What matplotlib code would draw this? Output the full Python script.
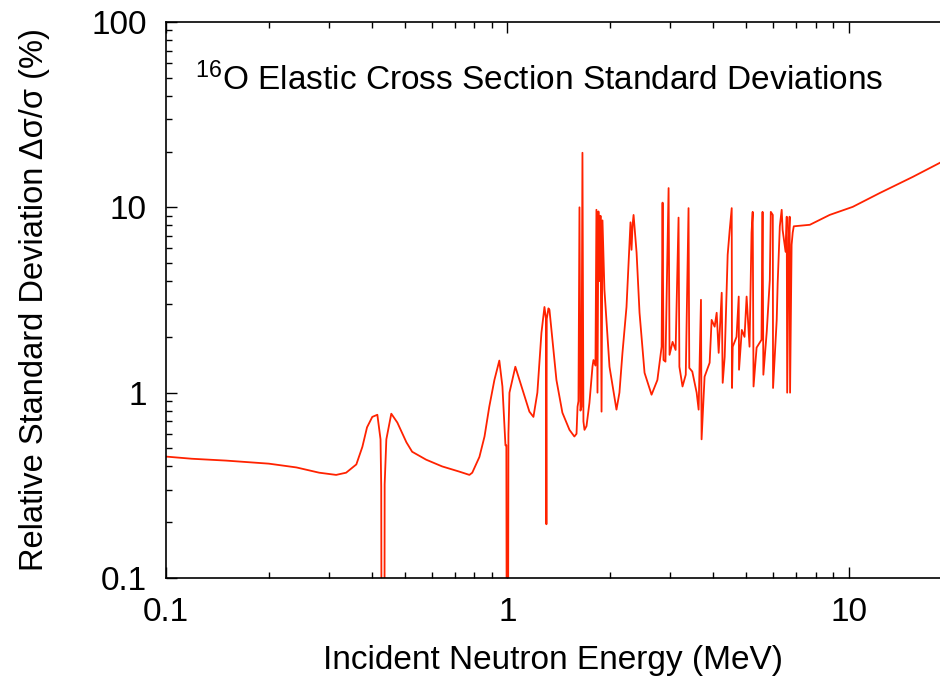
import numpy as np
import matplotlib
matplotlib.use('Agg')
import matplotlib.pyplot as plt
from matplotlib.ticker import LogLocator, FixedLocator, FixedFormatter, NullFormatter

# incident neutron energy (MeV) and relative std. deviation (%)
energy = [0.100, 0.119, 0.150, 0.200, 0.241, 0.281, 0.315, 0.337, 0.361, 0.376,
          0.388, 0.402, 0.416, 0.425, 0.427, 0.4285, 0.436, 0.437, 0.442, 0.457,
          0.476, 0.506, 0.526, 0.578, 0.644, 0.723, 0.774, 0.789, 0.828, 0.857,
          0.885, 0.916, 0.947, 0.967, 0.987, 0.993, 0.9966, 1.0034, 1.007, 1.014,
          1.055, 1.107, 1.160, 1.192, 1.224, 1.258, 1.284, 1.297, 1.301, 1.304,
          1.319, 1.328, 1.355, 1.392, 1.449, 1.520, 1.571, 1.594, 1.605, 1.615,
          1.626, 1.637, 1.648, 1.659, 1.670, 1.682, 1.705, 1.739, 1.775, 1.787,
          1.811, 1.823, 1.836, 1.848, 1.861, 1.874, 1.887, 1.899, 1.924, 1.991,
          2.087, 2.129, 2.173, 2.233, 2.294, 2.310, 2.326, 2.342, 2.390, 2.438,
          2.522, 2.644, 2.75, 2.830, 2.848, 2.866, 2.904, 2.966, 2.985, 3.047,
          3.11, 3.172, 3.19, 3.258, 3.33, 3.393, 3.41, 3.48, 3.584, 3.632,
          3.69, 3.705, 3.781, 3.912, 3.965, 4.047, 4.102, 4.158, 4.244, 4.272,
          4.330, 4.418, 4.479, 4.540, 4.55, 4.571, 4.69, 4.76, 4.77, 4.86,
          4.95, 5.02, 5.12, 5.19, 5.23, 5.26, 5.37, 5.55, 5.59, 5.62,
          5.75, 5.87, 5.91, 5.99, 6.00, 6.15, 6.19, 6.28, 6.36, 6.40,
          6.53, 6.58, 6.60, 6.67, 6.71, 6.73, 6.80, 6.85, 6.90, 7.69,
          8.79, 10.27, 12.33, 15.4, 18.5]
sigma = [0.452, 0.44, 0.43, 0.414, 0.395, 0.37, 0.36, 0.37, 0.41, 0.51,
         0.65, 0.74, 0.76, 0.56, 0.31, 0.01, 0.01, 0.32, 0.56, 0.77,
         0.69, 0.54, 0.48, 0.435, 0.40, 0.375, 0.36, 0.37, 0.45, 0.58,
         0.84, 1.17, 1.49, 1.08, 0.52, 0.52, 0.01, 0.01, 0.6, 1.0,
         1.38, 1.04, 0.79, 0.74, 1.0, 2.1, 2.9, 2.5, 0.195, 2.5,
         2.85, 2.8, 1.93, 1.17, 0.78, 0.63, 0.58, 0.6, 0.84, 0.9,
         10.0, 0.8, 0.84, 19.7, 0.7, 0.63, 0.66, 0.88, 1.38, 1.5,
         1.4, 9.7, 1.0, 9.5, 4.0, 9.0, 0.79, 8.5, 3.6, 1.38,
         0.81, 1.0, 1.64, 2.9, 8.3, 5.9, 8.0, 9.1, 5.7, 2.7,
         1.28, 0.975, 1.17, 1.77, 10.6, 1.5, 1.47, 12.7, 1.6, 1.88,
         1.7, 8.8, 1.38, 1.08, 1.25, 9.9, 1.36, 1.3, 1.0, 0.81,
         3.17, 0.56, 1.22, 1.45, 2.47, 2.27, 2.7, 1.64, 3.46, 1.13,
         1.56, 5.55, 7.55, 9.9, 1.06, 1.77, 2.0, 3.3, 1.33, 2.18,
         2.0, 3.3, 1.77, 7.3, 9.45, 1.08, 1.75, 1.93, 9.45, 1.25,
         2.13, 4.06, 9.45, 9.1, 1.06, 2.47, 3.9, 7.9, 9.7, 7.55,
         5.75, 8.9, 1.0, 6.9, 8.9, 1.0, 6.28, 7.3, 7.9, 8.05,
         9.1, 10.06, 11.95, 14.6, 17.4]

xticks = [0.1, 1, 10]
xticklabels = ['0.1', '1', '10']
yticks = [0.1, 1, 10, 100]
yticklabels = ['0.1', '1', '10', '100']

plt.rcParams['font.family'] = ['Liberation Sans', 'DejaVu Sans']
plt.rcParams['mathtext.fontset'] = 'custom'
plt.rcParams['mathtext.rm'] = 'Liberation Sans'
plt.rcParams['mathtext.it'] = 'Liberation Sans:italic'

fig = plt.figure(figsize=(9.4, 6.84), dpi=100)
ax = fig.add_axes([166/940, 1-578/684, 1-166/940, (578-22)/684])

ax.plot(energy, sigma, color='#ff2200', lw=1.3)

ax.set_xscale('log')
ax.set_yscale('log')
ax.set_xlim(0.1, 18.5)
ax.set_ylim(0.1, 100)

ax.xaxis.set_major_locator(FixedLocator(xticks))
ax.xaxis.set_major_formatter(FixedFormatter(xticklabels))
ax.yaxis.set_major_locator(FixedLocator(yticks))
ax.yaxis.set_major_formatter(FixedFormatter(yticklabels))
ax.xaxis.set_minor_locator(LogLocator(base=10, subs=np.arange(2, 10)))
ax.yaxis.set_minor_locator(LogLocator(base=10, subs=np.arange(2, 10)))
ax.xaxis.set_minor_formatter(NullFormatter())
ax.yaxis.set_minor_formatter(NullFormatter())

ax.spines['right'].set_visible(False)
for s in ['left', 'bottom', 'top']:
    ax.spines[s].set_linewidth(1.2)
ax.tick_params(which='both', direction='in', top=True, right=False, width=1.0,
               labelsize=24, pad=14)
ax.tick_params(which='major', length=8)
ax.tick_params(which='minor', length=4)

ax.set_xlabel('Incident Neutron Energy (MeV)', fontsize=24, labelpad=12)
ax.set_ylabel('Relative Standard Deviation Δσ/σ (%)', fontsize=23.5)
ax.yaxis.set_label_coords(-0.150, 0.5)

ax.text((195-166)/774, (578-90)/556, r'$^{16}$O Elastic Cross Section Standard Deviations',
        transform=ax.transAxes, fontsize=24, va='baseline', ha='left')

fig.savefig('out.png', dpi=100, facecolor='w')
